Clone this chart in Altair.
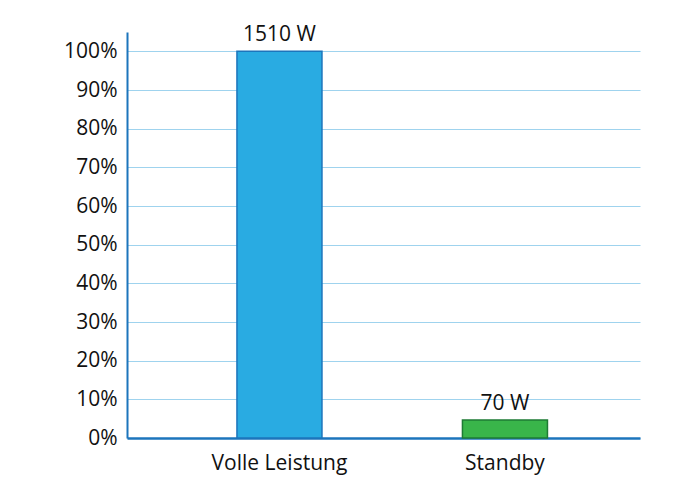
import altair as alt
import pandas as pd

categories = ["Volle Leistung", "Standby"]
percent = [100.0, 4.64]
labels = ["1510 W", "70 W"]
fills = ["#29abe2", "#39b54a"]
strokes = ["#1c75bc", "#1e7b34"]

df = pd.DataFrame({"cat": categories, "pct": percent, "label": labels})

x = alt.X("cat:N", sort=categories, title=None,
          scale=alt.Scale(paddingInner=0.623, paddingOuter=0.449, align=0.543),
          axis=alt.Axis(labelAngle=0, labelFont="Open Sans", labelFontSize=21,
                        labelColor="#111111", labelPadding=14, ticks=False,
                        domainColor="#1c75bc", domainWidth=2.5, grid=False))
y = alt.Y("pct:Q", title=None,
          scale=alt.Scale(domain=[0, 105], nice=False),
          axis=alt.Axis(values=list(range(0, 101, 10)), labelExpr="datum.value + '%'",
                        labelFont="Open Sans", labelFontSize=21, labelColor="#111111",
                        labelPadding=10, ticks=False, domainColor="#1c75bc",
                        domainWidth=2, gridColor="#9fd3ee", gridWidth=1.2))

bars = alt.Chart(df).mark_bar(strokeWidth=1.5).encode(
    x=x, y=y,
    color=alt.Color("cat:N", scale=alt.Scale(domain=categories, range=fills), legend=None),
    stroke=alt.Stroke("cat:N", scale=alt.Scale(domain=categories, range=strokes), legend=None),
)

text = alt.Chart(df).mark_text(font="Open Sans", fontSize=21, color="#111111",
                               baseline="bottom", dy=-6).encode(
    x=alt.X("cat:N", sort=categories), y="pct:Q", text="label:N")

chart = (bars + text).properties(
    width=513, height=406,
    background="white",
    autosize=alt.AutoSizeParams(type="none"),
    padding={"left": 119, "top": 24, "right": 50, "bottom": 54},
).configure_view(strokeWidth=0, stroke="transparent")

chart.save("out.html", embed_options={"renderer": "svg", "actions": False})
